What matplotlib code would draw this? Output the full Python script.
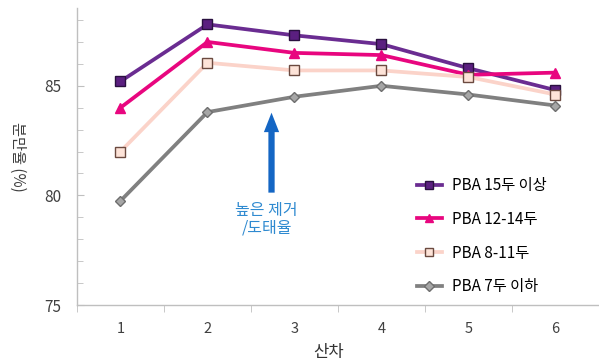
import matplotlib
matplotlib.use("Agg")
import matplotlib.pyplot as plt
from matplotlib.ticker import MultipleLocator

plt.rcParams['font.family'] = ['Noto Sans CJK KR', 'DejaVu Sans']

parity = [1, 2, 3, 4, 5, 6]
pba_15_plus = [85.2, 87.8, 87.3, 86.9, 85.8, 84.8]
pba_12_14 = [84.0, 87.0, 86.5, 86.4, 85.5, 85.6]
pba_8_11 = [82.0, 86.05, 85.7, 85.7, 85.4, 84.6]
pba_7_under = [79.75, 83.8, 84.5, 85.0, 84.6, 84.1]

series = [
    ("PBA 15두 이상", pba_15_plus, dict(color="#6a2c91", marker="s", mfc="#5b1f80", mec="#2a1040", ms=7)),
    ("PBA 12-14두", pba_12_14, dict(color="#e8067f", marker="^", mfc="#e8067f", mec="#e8067f", ms=7)),
    ("PBA 8-11두", pba_8_11, dict(color="#fbd3c9", marker="s", mfc="#fde3d8", mec="#6b4a40", ms=7)),
    ("PBA 7두 이하", pba_7_under, dict(color="#808080", marker="D", mfc="#a6a6a6", mec="#6e6e6e", ms=5.5)),
]

fig = plt.figure(figsize=(5.99, 3.61), dpi=100)
ax = fig.add_axes([0.1285, 0.155, 0.8715, 0.823])

for label, vals, style in series:
    ax.plot(parity, vals, lw=2.7, label=label, mew=1.0, **style)

ax.set_xlim(0.5, 6.24)
ax.set_ylim(75, 88.55)
ax.yaxis.set_major_locator(MultipleLocator(5))
ax.yaxis.set_minor_locator(MultipleLocator(1))
ax.set_xticks(parity)
ax.set_xticks([0.5 + i for i in range(7)], minor=True)

for s in ["top", "right"]:
    ax.spines[s].set_visible(False)
for s in ["left", "bottom"]:
    ax.spines[s].set_color("#bfbfbf")
    ax.spines[s].set_linewidth(1.0)

ax.tick_params(axis="y", which="both", direction="in", color="#bfbfbf", labelcolor="#404040",
               labelsize=11, pad=11.5)
ax.tick_params(axis="y", which="major", length=5)
ax.tick_params(axis="y", which="minor", length=4)
ax.tick_params(axis="x", which="major", length=0, labelcolor="#404040", labelsize=10.5, pad=12)
ax.tick_params(axis="x", which="minor", length=5, direction="out", color="#bfbfbf")

ax.set_xlabel("산차", fontsize=12, color="#333333")
ax.xaxis.set_label_coords(0.483, -0.13)
fig.text(0.03, 0.565, "분만율 (%)", rotation=-90, ha="center", va="center",
         fontsize=11, color="#404040")

ax.annotate("", xy=(2.736, 83.9), xytext=(2.736, 80.0),
            arrowprops=dict(arrowstyle="simple,head_length=1.4,head_width=1.1,tail_width=0.45",
                            color="#1466c4", lw=0))
ax.text(2.68, 78.93, "높은 제거\n/도태율", ha="center", va="center", fontsize=11.5,
        color="#2f8ad0", linespacing=1.05)

leg = fig.legend(*ax.get_legend_handles_labels(), loc="upper left",
                 bbox_to_anchor=(0.696, 0.51), frameon=False, borderpad=0, borderaxespad=0,
                 fontsize=11, handlelength=1.63, handletextpad=0.65, labelspacing=1.1,
                 markerscale=0.9)

fig.savefig("out.png", dpi=100)
